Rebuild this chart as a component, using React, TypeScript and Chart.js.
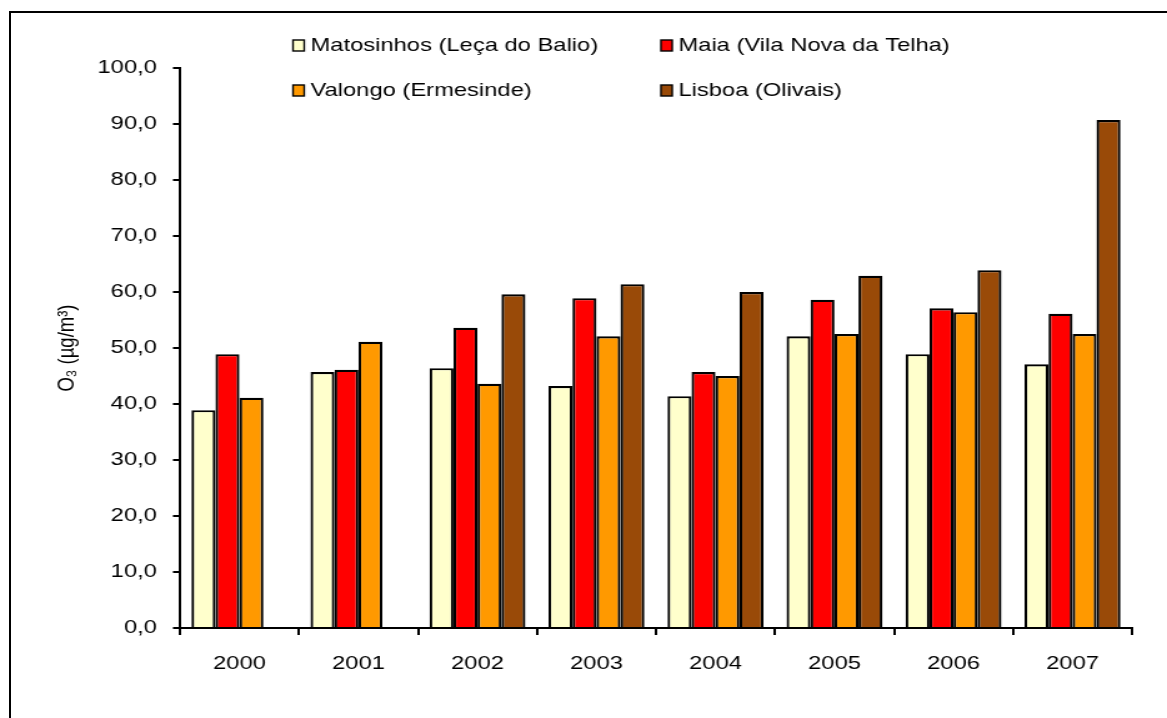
import React, { useEffect, useRef } from "react";
import { Chart, registerables } from "chart.js";

Chart.register(...registerables);

const years = ["2000", "2001", "2002", "2003", "2004", "2005", "2006", "2007"];
const seriesNames = [
  "Matosinhos (Leça do Balio)",
  "Maia (Vila Nova da Telha)",
  "Valongo (Ermesinde)",
  "Lisboa (Olivais)",
];
const matosinhos = [38.9, 45.7, 46.4, 43.2, 41.4, 52.1, 48.9, 47.1];
const maia = [48.9, 46.1, 53.6, 58.9, 45.7, 58.6, 57.1, 56.1];
const valongo = [41.1, 51.1, 43.6, 52.1, 45.0, 52.5, 56.4, 52.5];
const lisboa = [null, null, 59.6, 61.4, 60.0, 62.9, 63.9, 90.7];
const seriesColors = ["#FFFFCC", "#FF0000", "#FF9900", "#994A08"];
const yTitle = "O₃ (µg/m³)";

const FONT = "'Liberation Sans', Arial, sans-serif";
// The reference picture is stretched horizontally; render narrower and stretch.
const OUT_W = 1167;
const OUT_H = 718;
const CANVAS_W = 934;

const legendPlugin = {
  id: "gridLegend",
  afterDraw(chart: any) {
    const ctx = chart.ctx;
    const cols = [234.5, 529];
    const rows = [46, 91];
    ctx.save();
    ctx.font = `19px ${FONT}`;
    ctx.textBaseline = "middle";
    ctx.textAlign = "left";
    chart.data.datasets.forEach((ds: any, i: number) => {
      const x = cols[i % 2];
      const y = rows[Math.floor(i / 2)];
      ctx.fillStyle = ds.backgroundColor;
      ctx.fillRect(x, y - 6, 9, 11);
      ctx.strokeStyle = "#000";
      ctx.lineWidth = 1.4;
      ctx.strokeRect(x, y - 6, 9, 11);
      ctx.fillStyle = "#000";
      ctx.fillText(ds.label, x + 14, y);
    });
    ctx.restore();
  },
};

export default function App() {
  const ref = useRef<HTMLCanvasElement | null>(null);
  useEffect(() => {
    if (!ref.current) return;
    const data = [matosinhos, maia, valongo, lisboa];
    const chart = new Chart(ref.current, {
      type: "bar",
      data: {
        labels: years,
        datasets: seriesNames.map((name, i) => ({
          label: name,
          data: data[i] as any,
          backgroundColor: seriesColors[i],
          borderColor: "#000",
          borderWidth: 2.2,
          inflateAmount: 0,
          categoryPercentage: 0.806,
          barPercentage: 1,
        })),
      },
      options: {
        animation: false,
        responsive: false,
        devicePixelRatio: 1,
        layout: { padding: { top: 68, right: 28, left: 0, bottom: 0 } },
        plugins: {
          legend: { display: false },
          tooltip: { enabled: false },
        },
        scales: {
          x: {
            grid: {
              offset: true,
              drawOnChartArea: false,
              tickLength: 7,
              color: "#000",
              lineWidth: 2,
            },
            border: { display: true, color: "#000", width: 2 },
            ticks: {
              color: "#000",
              font: { family: FONT, size: 19 },
              padding: 17,
              maxRotation: 0,
            },
            afterFit: (s: any) => {
              s.height = 90;
            },
          },
          y: {
            min: 0,
            max: 100,
            grid: {
              drawOnChartArea: false,
              tickLength: 5.6,
              color: "#000",
              lineWidth: 2,
            },
            border: { display: true, color: "#000", width: 2 },
            ticks: {
              stepSize: 10,
              color: "#000",
              font: { family: FONT, size: 19 },
              padding: 12.8,
              callback: (v: any) => Number(v).toFixed(1).replace(".", ","),
            },
            title: {
              display: true,
              text: yTitle,
              color: "#000",
              font: { family: FONT, size: 18.5 },
              padding: { top: 43, bottom: 0 },
            },
            afterFit: (s: any) => {
              s.width = 144;
            },
          },
        },
      },
      plugins: [legendPlugin],
    });
    return () => chart.destroy();
  }, []);

  return (
    <div
      style={{
        position: "fixed",
        left: 0,
        top: 0,
        width: OUT_W,
        height: OUT_H,
        overflow: "hidden",
        background: "#fff",
      }}
    >
      <div
        style={{
          position: "absolute",
          left: 9,
          top: 11,
          width: 1300,
          height: 900,
          border: "2px solid #000",
        }}
      />
      <canvas
        ref={ref}
        width={CANVAS_W}
        height={OUT_H}
        style={{ position: "absolute", left: 0, top: 0, width: OUT_W, height: OUT_H }}
      />
    </div>
  );
}
